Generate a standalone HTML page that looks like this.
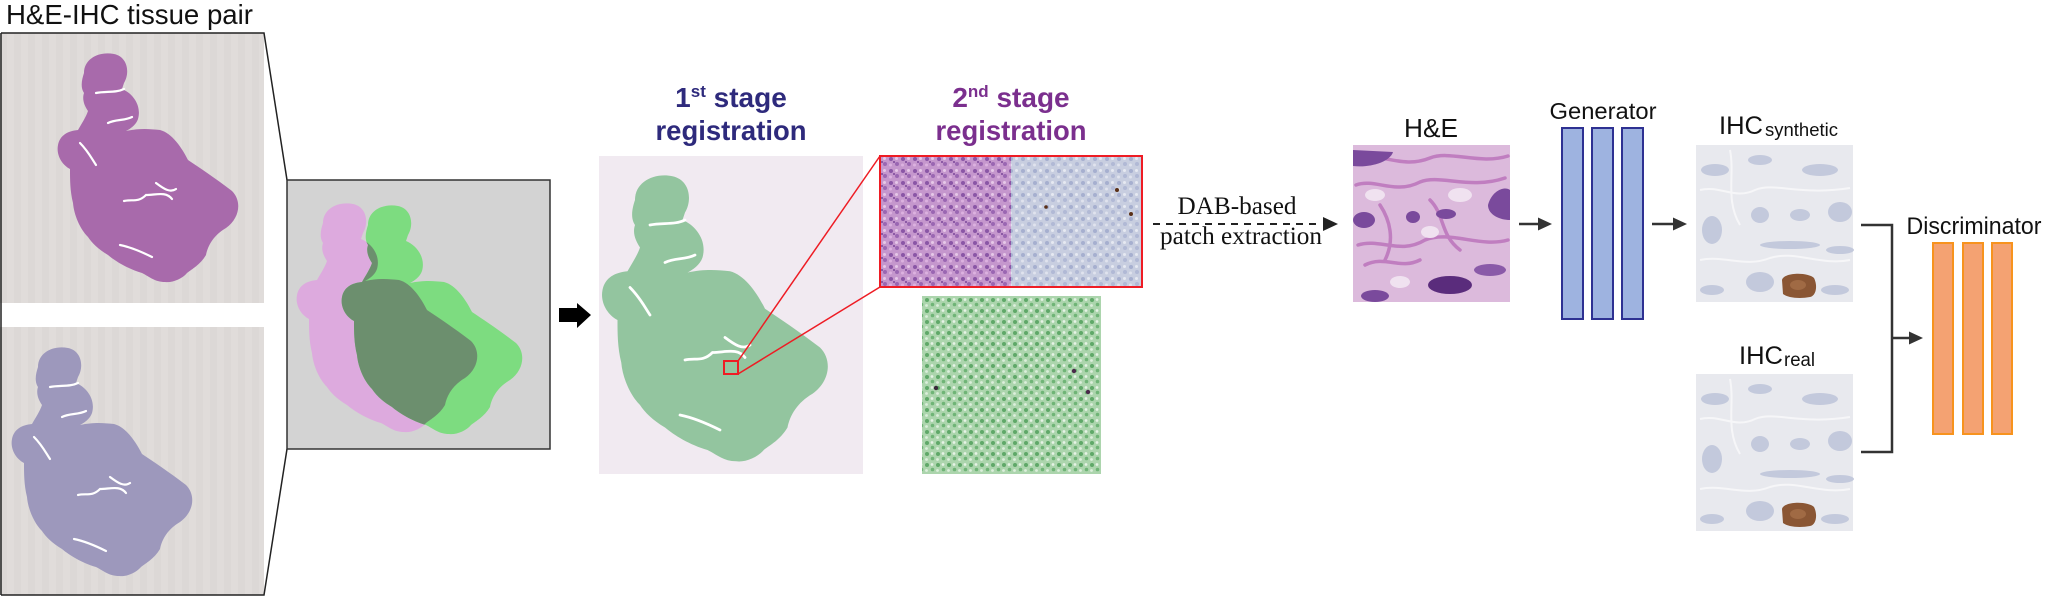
<!DOCTYPE html>
<html>
<head>
<meta charset="utf-8">
<style>
  html,body{margin:0;padding:0;background:#fff;}
  body{width:2048px;height:597px;overflow:hidden;}
  svg{display:block;}
</style>
</head>
<body>
<svg width="2048" height="597" viewBox="0 0 2048 597" xmlns="http://www.w3.org/2000/svg">
  <defs>
    <path id="tissue" d="M 84,40 C 84,25 100,18 114,21 C 128,24 130,40 124,50 L 122,56 C 132,60 142,72 138,86 C 136,92 130,96 126,98 C 140,95 150,96 160,97 C 172,100 182,115 188,127 C 200,135 215,145 232,158 C 242,168 240,185 226,195 C 214,202 208,212 206,222 C 200,232 192,236 187,240 C 182,246 172,250 165,249 C 155,249 150,244 142,240 C 128,236 115,228 108,222 C 98,216 92,210 88,204 C 80,196 74,182 73,170 C 70,158 70,146 70,136 C 62,132 56,122 58,112 C 60,102 68,98 78,97 C 82,90 86,84 88,78 C 84,72 82,66 84,60 C 80,54 82,46 84,40 Z"/>
    <g id="cracks" fill="none" stroke="#ffffff" stroke-width="2.2" stroke-linecap="round">
      <path d="M 96,60 C 106,58 116,60 124,56"/>
      <path d="M 108,90 C 116,86 124,88 132,84"/>
      <path d="M 80,110 C 88,118 92,126 96,132"/>
      <path d="M 124,168 C 132,166 138,170 146,162 C 156,162 166,158 172,166"/>
      <path d="M 120,212 C 130,214 140,218 152,224"/>
      <path d="M 156,150 C 164,156 170,160 176,156"/>
    </g>
    <pattern id="stripes" width="14" height="10" patternUnits="userSpaceOnUse">
      <rect width="14" height="10" fill="#dcd8d6"/>
      <rect x="7" width="7" height="10" fill="#e0dcda"/>
    </pattern>
    <pattern id="he" width="12" height="12" patternUnits="userSpaceOnUse">
      <rect width="12" height="12" fill="#c597cd"/>
      <circle cx="3" cy="3" r="2" fill="#8a56a6"/>
      <circle cx="9" cy="8" r="2" fill="#9a66b2"/>
      <circle cx="8.5" cy="2.5" r="1.5" fill="#e6c8e8"/>
      <circle cx="2.5" cy="9" r="1.5" fill="#dcb2e0"/>
      <circle cx="6" cy="6" r="1" fill="#7a4698"/>
    </pattern>
    <pattern id="ihc" width="12" height="12" patternUnits="userSpaceOnUse">
      <rect width="12" height="12" fill="#c8cee0"/>
      <circle cx="3" cy="3" r="2" fill="#a6afcf"/>
      <circle cx="9" cy="8" r="2" fill="#b1b9d5"/>
      <circle cx="8.5" cy="2.5" r="1.5" fill="#e6e9f2"/>
      <circle cx="2.5" cy="9" r="1.5" fill="#e0e3ee"/>
    </pattern>
    <pattern id="grn" width="11" height="11" patternUnits="userSpaceOnUse">
      <rect width="11" height="11" fill="#acd5ad"/>
      <circle cx="3" cy="3" r="2" fill="#5fa868"/>
      <circle cx="8.5" cy="7.5" r="1.8" fill="#6fb476"/>
      <circle cx="8" cy="2.5" r="1.4" fill="#e6f3e6"/>
      <circle cx="2.5" cy="8.5" r="1.4" fill="#dcefdc"/>
    </pattern>
    <clipPath id="ovClip"><rect x="287" y="180" width="263" height="269"/></clipPath>
    <clipPath id="pinkClip"><use href="#tissue" transform="translate(239,183)"/></clipPath>
  </defs>

  <!-- Title -->
  <text x="6" y="24" font-family="Liberation Sans, sans-serif" font-size="27.5" fill="#111" textLength="247" lengthAdjust="spacingAndGlyphs">H&amp;E-IHC tissue pair</text>

  <!-- Left panels -->
  <rect x="0" y="33" width="264" height="270" fill="url(#stripes)"/>
  <rect x="0" y="327" width="264" height="268" fill="url(#stripes)"/>
  <use href="#tissue" transform="translate(0,33)" fill="#a86aab"/>
  <use href="#cracks" transform="translate(0,33)"/>
  <use href="#tissue" transform="translate(-46,327)" fill="#9d98bc"/>
  <use href="#cracks" transform="translate(-46,327)"/>
  <path d="M 1,33 L 1,595" stroke="#222" stroke-width="1.5"/>
  <polyline points="1,33 264,33 287,180" fill="none" stroke="#222" stroke-width="1.5"/>
  <polyline points="1,595 264,595 287,449" fill="none" stroke="#222" stroke-width="1.5"/>

  <!-- Overlay panel -->
  <rect x="287" y="180" width="263" height="269" fill="#d3d3d3"/>
  <g clip-path="url(#ovClip)">
    <use href="#tissue" transform="translate(239,183)" fill="#ddaade"/>
    <use href="#tissue" transform="translate(284,185)" fill="#7ddc80"/>
    <g clip-path="url(#pinkClip)">
      <use href="#tissue" transform="translate(284,185)" fill="#6c8f6e"/>
    </g>
  </g>
  <rect x="287" y="180" width="263" height="269" fill="none" stroke="#333" stroke-width="1.5"/>

  <!-- Block arrow -->
  <polygon points="559,308 577,308 577,303 591,315 577,328 577,322 559,322" fill="#000"/>

  <!-- 1st stage -->
  <text x="731" y="107" text-anchor="middle" font-family="Liberation Sans, sans-serif" font-weight="bold" font-size="28" fill="#2e2a7c">1<tspan font-size="17" dy="-10">st</tspan><tspan dy="10"> stage</tspan></text>
  <text x="731" y="140" text-anchor="middle" font-family="Liberation Sans, sans-serif" font-weight="bold" font-size="28" fill="#2e2a7c" textLength="151" lengthAdjust="spacingAndGlyphs">registration</text>
  <rect x="599" y="156" width="264" height="318" fill="#f1eaf1"/>
  <use href="#tissue" transform="translate(530,150) scale(1.25)" fill="#93c59f"/>
  <use href="#cracks" transform="translate(530,150) scale(1.25)"/>
  <rect x="724" y="361" width="14" height="13" fill="none" stroke="#ee1c24" stroke-width="2"/>
  <line x1="738" y1="361" x2="880" y2="156" stroke="#ee1c24" stroke-width="1.5"/>
  <line x1="738" y1="374" x2="880" y2="287" stroke="#ee1c24" stroke-width="1.5"/>

  <!-- 2nd stage -->
  <text x="1011" y="107" text-anchor="middle" font-family="Liberation Sans, sans-serif" font-weight="bold" font-size="28" fill="#7b2f8e">2<tspan font-size="17" dy="-10">nd</tspan><tspan dy="10"> stage</tspan></text>
  <text x="1011" y="140" text-anchor="middle" font-family="Liberation Sans, sans-serif" font-weight="bold" font-size="28" fill="#7b2f8e" textLength="151" lengthAdjust="spacingAndGlyphs">registration</text>
  <rect x="880" y="156" width="131" height="131" fill="url(#he)"/>
  <rect x="1011" y="156" width="131" height="131" fill="url(#ihc)"/>
  <circle cx="1117" cy="190" r="2" fill="#5a3018"/>
  <circle cx="1131" cy="214" r="2" fill="#5a3018"/>
  <circle cx="1046" cy="207" r="1.8" fill="#5a3018"/>
  <rect x="880" y="156" width="262" height="131" fill="none" stroke="#ee1c24" stroke-width="2"/>
  <rect x="922" y="296" width="179" height="178" fill="url(#grn)"/>
  <circle cx="1074" cy="371" r="2.2" fill="#4a2a4a"/>
  <circle cx="1088" cy="392" r="2.2" fill="#4a2a4a"/>
  <circle cx="936" cy="388" r="2.2" fill="#3a2a3a"/>

  <!-- DAB-based dashed arrow -->
  <text x="1237" y="214" text-anchor="middle" font-family="Liberation Serif, serif" font-size="25" fill="#111" textLength="119" lengthAdjust="spacingAndGlyphs">DAB-based</text>
  <line x1="1153" y1="224" x2="1322" y2="224" stroke="#222" stroke-width="2" stroke-dasharray="7 6"/>
  <polygon points="1323,217 1338,224 1323,231" fill="#222"/>
  <text x="1241" y="244" text-anchor="middle" font-family="Liberation Serif, serif" font-size="25" fill="#111" textLength="162" lengthAdjust="spacingAndGlyphs">patch extraction</text>

  <!-- H&E patch -->
  <text x="1431" y="137" text-anchor="middle" font-family="Liberation Sans, sans-serif" font-size="26" fill="#111" textLength="54" lengthAdjust="spacingAndGlyphs">H&amp;E</text>
  <rect x="1353" y="145" width="157" height="157" fill="#dcbadc"/>
  <g fill="none" stroke="#c07ec0" stroke-width="3.5" stroke-linecap="round">
    <path d="M1356,160 C1380,150 1400,170 1430,158 C1450,150 1480,165 1508,156"/>
    <path d="M1356,185 C1375,178 1395,195 1420,182 C1440,174 1470,190 1505,178"/>
    <path d="M1358,245 C1380,238 1400,255 1425,240 C1450,230 1480,248 1508,240"/>
    <path d="M1365,265 C1385,255 1400,270 1420,260"/>
    <path d="M1430,200 C1445,215 1440,235 1460,250"/>
    <path d="M1380,205 C1390,220 1395,240 1385,260"/>
  </g>
  <g fill="#f0e2f0">
    <ellipse cx="1375" cy="195" rx="10" ry="6"/>
    <ellipse cx="1460" cy="195" rx="12" ry="7"/>
    <ellipse cx="1430" cy="232" rx="9" ry="6"/>
    <ellipse cx="1400" cy="282" rx="10" ry="6"/>
  </g>
  <g fill="#7a4a9c">
    <path d="M1353,150 L1393,152 C1390,162 1370,168 1353,166 Z"/>
    <ellipse cx="1364" cy="220" rx="11" ry="8"/>
    <ellipse cx="1413" cy="217" rx="7" ry="6"/>
    <ellipse cx="1446" cy="214" rx="10" ry="5"/>
    <path d="M1488,205 C1492,190 1505,186 1510,190 L1510,220 C1500,220 1488,215 1488,205 Z"/>
    <ellipse cx="1490" cy="270" rx="16" ry="6" fill="#8a5aa8"/>
    <ellipse cx="1375" cy="296" rx="14" ry="6"/>
  </g>
  <ellipse cx="1450" cy="285" rx="22" ry="9" fill="#5a2c7c"/>

  <!-- Arrow to generator -->
  <line x1="1519" y1="224" x2="1540" y2="224" stroke="#333" stroke-width="2.5"/>
  <polygon points="1538,217.5 1552,224 1538,230.5" fill="#333"/>

  <!-- Generator -->
  <text x="1603" y="119" text-anchor="middle" font-family="Liberation Sans, sans-serif" font-size="23.5" fill="#111" textLength="107" lengthAdjust="spacingAndGlyphs">Generator</text>
  <rect x="1562" y="128" width="21" height="191" fill="#9eb3e0" stroke="#2e3192" stroke-width="2"/>
  <rect x="1592" y="128" width="21" height="191" fill="#9eb3e0" stroke="#2e3192" stroke-width="2"/>
  <rect x="1622" y="128" width="21" height="191" fill="#9eb3e0" stroke="#2e3192" stroke-width="2"/>

  <!-- Arrow to IHC synthetic -->
  <line x1="1652" y1="224" x2="1675" y2="224" stroke="#333" stroke-width="2.5"/>
  <polygon points="1673,217.5 1687,224 1673,230.5" fill="#333"/>

  <!-- IHC synthetic -->
  <text x="1719" y="134" font-family="Liberation Sans, sans-serif" font-size="25" fill="#111" textLength="44" lengthAdjust="spacingAndGlyphs">IHC</text>
  <text x="1765" y="136" font-family="Liberation Sans, sans-serif" font-size="18.5" fill="#111" textLength="73" lengthAdjust="spacingAndGlyphs">synthetic</text>
  <g id="ihcpatch">
    <rect x="1696" y="145" width="157" height="157" fill="#e8e9ee"/>
    <g fill="#c3c9dc">
      <ellipse cx="1715" cy="170" rx="14" ry="6"/>
      <ellipse cx="1760" cy="160" rx="12" ry="5"/>
      <ellipse cx="1820" cy="170" rx="18" ry="6"/>
      <ellipse cx="1712" cy="230" rx="10" ry="14"/>
      <ellipse cx="1760" cy="215" rx="9" ry="8"/>
      <ellipse cx="1800" cy="215" rx="10" ry="6"/>
      <ellipse cx="1840" cy="212" rx="12" ry="10"/>
      <ellipse cx="1790" cy="245" rx="30" ry="4"/>
      <ellipse cx="1840" cy="250" rx="14" ry="4"/>
      <ellipse cx="1712" cy="290" rx="12" ry="5"/>
      <ellipse cx="1760" cy="282" rx="14" ry="10"/>
      <ellipse cx="1835" cy="290" rx="14" ry="5"/>
    </g>
    <g fill="none" stroke="#f6f6f8" stroke-width="2">
      <path d="M1700,190 C1720,185 1735,200 1755,190 C1775,182 1800,196 1850,188"/>
      <path d="M1700,260 C1725,255 1745,268 1770,258 C1795,250 1820,266 1850,260"/>
      <path d="M1730,150 C1735,175 1725,200 1740,225"/>
    </g>
    <path d="M1782,280 C1784,272 1808,272 1814,278 C1818,286 1816,296 1810,297 C1800,299 1788,298 1783,294 Z" fill="#8a5634"/>
    <ellipse cx="1798" cy="285" rx="8" ry="5" fill="#a06a44"/>
  </g>

  <!-- IHC real -->
  <text x="1739" y="364" font-family="Liberation Sans, sans-serif" font-size="25" fill="#111" textLength="44" lengthAdjust="spacingAndGlyphs">IHC</text>
  <text x="1784" y="366" font-family="Liberation Sans, sans-serif" font-size="19" fill="#111" textLength="31" lengthAdjust="spacingAndGlyphs">real</text>
  <use href="#ihcpatch" transform="translate(0,229)"/>

  <!-- Connector -->
  <polyline points="1861,225 1892,225 1892,452 1861,452" fill="none" stroke="#333" stroke-width="2.5"/>
  <line x1="1892" y1="338" x2="1911" y2="338" stroke="#333" stroke-width="2.5"/>
  <polygon points="1909,331.5 1923,338 1909,344.5" fill="#333"/>

  <!-- Discriminator -->
  <text x="1974" y="234" text-anchor="middle" font-family="Liberation Sans, sans-serif" font-size="24" fill="#111" textLength="135" lengthAdjust="spacingAndGlyphs">Discriminator</text>
  <rect x="1933" y="243" width="20" height="191" fill="#f4a272" stroke="#f7931e" stroke-width="2"/>
  <rect x="1963" y="243" width="20" height="191" fill="#f4a272" stroke="#f7931e" stroke-width="2"/>
  <rect x="1992" y="243" width="20" height="191" fill="#f4a272" stroke="#f7931e" stroke-width="2"/>
</svg>
</body>
</html>
